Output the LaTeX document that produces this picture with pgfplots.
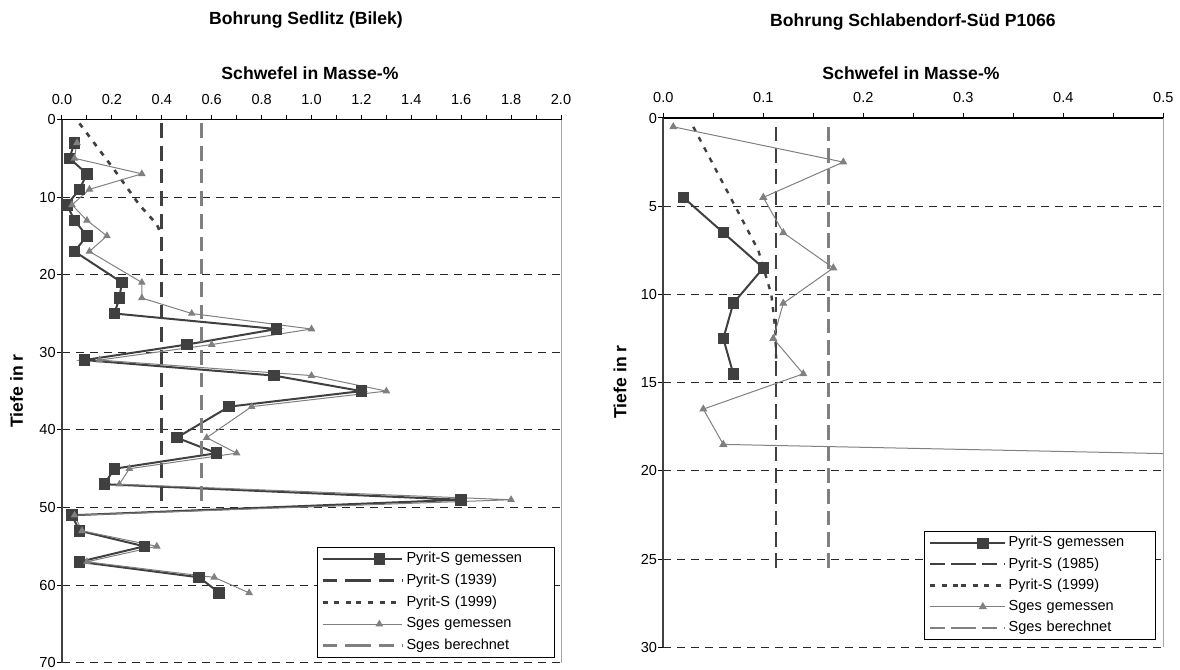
\documentclass[border=0pt]{standalone}
\usepackage{fontspec}
\setmainfont{Liberation Sans}
\usepackage{pgfplots}
\pgfplotsset{compat=1.18}
\definecolor{dk}{HTML}{404040}
\definecolor{md}{HTML}{808080}
\definecolor{lt}{HTML}{A6A6A6}
\newcommand{\tickfont}{\fontsize{10.9}{13}\selectfont}
\newcommand{\titlefont}{\fontsize{13.2}{16}\selectfont\bfseries}

\pgfplotsset{
  chartbase/.style={
    scale only axis,
    anchor=south west,
    y dir=reverse,
    axis x line*=top,
    axis y line*=left,
    x axis line style={black, line width=1.4pt, -},
    y axis line style={dk, line width=1.5pt, -},
    tick align=outside,
    major tick length=3.75pt,
    minor tick length=3.75pt,
    every tick/.style={black, line width=0.75pt},
    xticklabel style={font=\tickfont, yshift=4pt, /pgf/number format/.cd, fixed, fixed zerofill, precision=1, assume math mode=true},
    yticklabel style={font=\tickfont, xshift=2.5pt, /pgf/number format/assume math mode=true},
    ymajorgrids,
    major grid style={black!85, line width=0.75pt, dash pattern=on 6pt off 4.5pt},
    legend cell align=left,
    legend style={font=\tickfont, draw=black, line width=0.75pt, fill=white,
      inner xsep=3pt, inner ysep=2pt, anchor=south east,
      nodes={inner sep=2pt, text depth=0.2em, text height=0.75em}},
  },
  leftleg/.style={legend image code/.code={%
     \path (-25.3pt,0pt) -- (0pt,0pt);
     \draw[mark repeat=2,mark phase=2,##1] plot coordinates {(0pt,0pt) (17.25pt,0pt) (34.5pt,0pt)};}},
  rightleg/.style={legend image code/.code={%
     \path (-23.25pt,0pt) -- (0pt,0pt);
     \draw[mark repeat=2,mark phase=2,##1] plot coordinates {(0pt,0pt) (16.5pt,0pt) (33pt,0pt)};}},
}

\begin{document}
\begin{tikzpicture}
\useasboundingbox (0pt,0pt) rectangle (885pt,502.5pt);

% ---------------- left chart ----------------
\begin{axis}[chartbase, name=L, leftleg,
  at={(46.5pt,5.475pt)},
  width=374.25pt, height=407.4pt,
  xmin=0, xmax=2, ymin=0, ymax=70,
  xtick={0,0.2,0.4,0.6,0.8,1.0,1.2,1.4,1.6,1.8,2.0},
  minor xtick={0.1,0.3,0.5,0.7,0.9,1.1,1.3,1.5,1.7,1.9},
  ytick={0,10,20,30,40,50,60,70},
  legend style={at={(axis description cs:0.988,0.0087)}, nodes={text width=106pt}, row sep=2.75pt},
]
\addplot[dk, line width=1.5pt, mark=square*, mark size=3.6pt, mark options={solid, fill=dk, draw=dk}] table {
x y
0.05 3
0.03 5
0.10 7
0.07 9
0.02 11
0.05 13
0.10 15
0.05 17
0.24 21
0.23 23
0.21 25
0.86 27
0.50 29
0.09 31
0.85 33
1.20 35
0.67 37
0.46 41
0.62 43
0.21 45
0.17 47
1.60 49
0.04 51
0.07 53
0.33 55
0.07 57
0.55 59
0.63 61
};
\addlegendentry{Pyrit-S gemessen}
\addplot[dk, line width=2.25pt, dash pattern=on 11pt off 6pt] coordinates {(0.40,0.5) (0.40,50)};
\addlegendentry{Pyrit-S (1939)}
\addplot[dk, line width=2pt, dash pattern=on 3.75pt off 5pt] coordinates {(0.07,0.5) (0.21,6.5) (0.31,11) (0.38,13.5) (0.40,15)};
\addlegendentry{Pyrit-S (1999)}
\addplot[md, line width=0.75pt, mark=triangle*, mark size=2.6pt, mark options={solid, fill=md, draw=md}] table {
x y
0.06 3
0.05 5
0.32 7
0.11 9
0.04 11
0.10 13
0.18 15
0.11 17
0.32 21
0.32 23
0.52 25
1.00 27
0.60 29
0.15 31
1.00 33
1.30 35
0.76 37
0.58 41
0.70 43
0.27 45
0.23 47
1.80 49
0.05 51
0.08 53
0.38 55
0.10 57
0.61 59
0.75 61
};
\addlegendentry{Sges gemessen}
\addplot[md, line width=2.25pt, dash pattern=on 11pt off 6pt] coordinates {(0.56,0.5) (0.56,50)};
\addlegendentry{Sges berechnet}
\end{axis}
\draw[lt, line width=0.75pt] (L.north east) -- (L.south east);

% ---------------- right chart ----------------
\begin{axis}[chartbase, name=R, rightleg,
  at={(497.475pt,17.025pt)},
  width=375pt, height=396.975pt,
  xmin=0, xmax=0.5, ymin=0, ymax=30,
  xtick={0,0.1,0.2,0.3,0.4,0.5},
  minor xtick={0.05,0.15,0.25,0.35,0.45},
  ytick={0,5,10,15,20,25,30},
  legend style={at={(axis description cs:0.985,0.0138)}, nodes={text width=104.95pt}, row sep=2.35pt},
]
\addplot[dk, line width=1.5pt, mark=square*, mark size=3.6pt, mark options={solid, fill=dk, draw=dk}] table {
x y
0.02 4.5
0.06 6.5
0.10 8.5
0.07 10.5
0.06 12.5
0.07 14.5
};
\addlegendentry{Pyrit-S gemessen}
\addplot[dk, line width=1.5pt, dash pattern=on 11pt off 5pt] coordinates {(0.113,0.5) (0.113,25.5)};
\addlegendentry{Pyrit-S (1985)}
\addplot[dk, line width=1.8pt, dash pattern=on 3.75pt off 5pt] coordinates {(0.03,0.5) (0.095,7.5) (0.108,10) (0.112,12) (0.113,14)};
\addlegendentry{Pyrit-S (1999)}
\addplot[md, line width=0.75pt, mark=triangle*, mark size=2.8pt, mark options={solid, fill=md, draw=md}] table {
x y
0.01 0.5
0.18 2.5
0.10 4.5
0.12 6.5
0.17 8.5
0.12 10.5
0.11 12.5
0.14 14.5
0.04 16.5
0.06 18.5
1.75 20.5
};
\addlegendentry{Sges gemessen}
\addplot[md, line width=1.8pt, dash pattern=on 11pt off 5pt] coordinates {(0.165,0.5) (0.165,25.5)};
\addlegendentry{Sges berechnet}
\end{axis}
\draw[lt, line width=0.75pt] (R.north east) -- (R.south east);

% ---------------- titles and labels ----------------
\node[font=\titlefont] at (229.5pt,487.5pt) {Bohrung Sedlitz (Bilek)};
\node[font=\titlefont] at (232.5pt,447.75pt) {Schwefel in Masse-\%};
\node[font=\titlefont] at (684.75pt,486pt) {Bohrung Schlabendorf-Süd P1066};
\node[font=\titlefont] at (683.25pt,447.75pt) {Schwefel in Masse-\%};
\node[font=\titlefont, rotate=90] at (12.5pt,209.25pt) {Tiefe in r};
\node[font=\titlefont, rotate=90] at (465pt,216pt) {Tiefe in r};
\end{tikzpicture}
\end{document}
